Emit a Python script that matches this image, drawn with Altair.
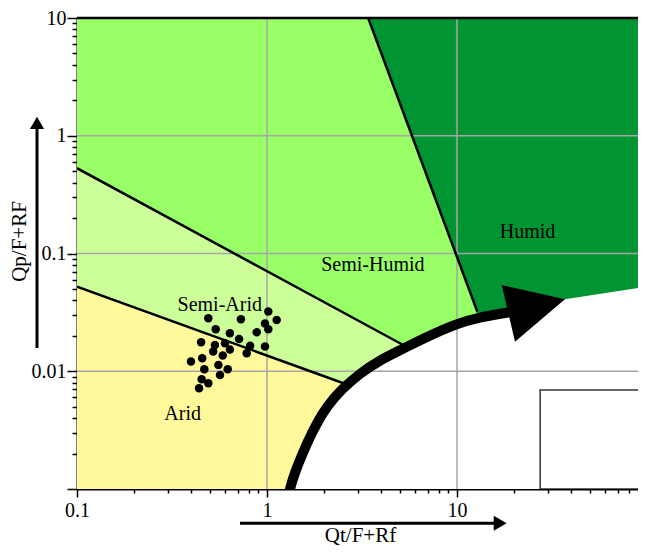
import altair as alt
import pandas as pd

# ---------------- data ----------------
pt_x = [0.491, 0.729, 1.016, 1.125, 0.976, 1.016, 0.883, 0.537, 0.638, 0.713,
        0.450, 0.532, 0.601, 0.815, 0.976, 0.638, 0.521, 0.782, 0.585, 0.456,
        0.398, 0.555, 0.621, 0.468, 0.566, 0.453, 0.491, 0.439]
pt_y = [0.0282, 0.0276, 0.0321, 0.0272, 0.0255, 0.0227, 0.0214, 0.0227, 0.0210, 0.0188,
        0.0176, 0.0167, 0.0173, 0.0165, 0.0162, 0.0153, 0.0147, 0.0142, 0.0136, 0.0129,
        0.0121, 0.0113, 0.0104, 0.0104, 0.00929, 0.00855, 0.00791, 0.00716]

line1_x = [0.1, 2.68]
line1_y = [0.0523, 0.00764]
line2_x = [0.1, 5.21]
line2_y = [0.530, 0.0167]
line3_x = [3.41, 12.8]
line3_y = [10.0, 0.0321]

semihumid_x = [0.1, 3.41, 27.8]
semihumid_y = [10.0, 10.0, 0.001]
semiarid_x = [0.1, 5.21]
semiarid_y = [0.530, 0.0167]
arid_x = [0.1, 2.68]
arid_y = [0.0523, 0.00764]

arc_x = [1.282, 1.321, 1.392, 1.650, 1.827, 2.062, 2.443, 3.087, 3.933, 5.217, 6.387,
         9.964, 13.21, 17.52, 19.0]
arc_y = [0.000806, 0.001, 0.001359, 0.002607, 0.003614, 0.005000, 0.006932, 0.009607,
         0.01246, 0.01554, 0.01842, 0.02554, 0.02872, 0.03105, 0.03184]
head_x = [17.2, 20.2, 37.0]
head_top = [0.054, 0.0509, 0.0408]
head_bot = [0.054, 0.0178, 0.0408]
edge_x = [13.21, 19.0, 37.0, 100.0]
edge_y = [0.02872, 0.03184, 0.0408, 0.0523]

box_x, box_x2 = [27.4], [100.0]
box_y, box_y2 = [0.001], [0.00693]

grid_x = [1, 10]
grid_y = [0.01, 0.1, 1]

lab_text = ["Semi-Arid", "Arid", "Semi-Humid", "Humid"]
lab_x = [0.564, 0.360, 3.61, 23.5]
lab_y = [0.0322, 0.00385, 0.0714, 0.1346]

# ---------------- chart ----------------
FONT = "Liberation Serif"
XMAX = 89.7
XS = alt.Scale(type="log", domain=[0.1, XMAX], nice=False)
YS = alt.Scale(type="log", domain=[0.001, 10], nice=False)

x_ticks = [m * 10.0 ** e for e in range(-1, 2) for m in range(1, 10)]
x_ticks = [v for v in x_ticks if v <= XMAX]
y_ticks = [m * 10.0 ** e for e in range(-3, 1) for m in range(1, 10)] + [10.0]
is_dec = "abs(log(datum.value)/LN10 - round(log(datum.value)/LN10)) < 0.001"

x_axis = alt.Axis(
    values=x_ticks, grid=False, title="Qt/F+Rf",
    labelExpr=f"({is_dec}) ? format(datum.value, '~g') : ''",
    tickSize={"condition": {"test": is_dec, "value": 8}, "value": 4},
    labelPadding=3, labelFont=FONT, labelFontSize=20, labelColor="black",
    titleFont=FONT, titleFontSize=21, titleFontWeight="normal", titleColor="black",
    titleX=283, titleY=52, titleAlign="center", titleBaseline="alphabetic",
    domainColor="black", domainWidth=2, tickColor="black", tickWidth=1.5,
    labelFlush=False, labelOverlap=False,
)
y_axis = alt.Axis(
    values=y_ticks, grid=False, title="Qp/F+RF",
    labelExpr=f"({is_dec}) && datum.value > 0.005 ? format(datum.value, '~g') : ''",
    tickSize={"condition": {"test": is_dec, "value": 10}, "value": 5},
    labelPadding=1, labelFont=FONT, labelFontSize=20, labelColor="black",
    titleFont=FONT, titleFontSize=21, titleFontWeight="normal", titleColor="black",
    titleX=-58, titleY=223, titleAngle=-90, titleAlign="center", titleBaseline="middle",
    domainColor="black", domainWidth=2, tickColor="black", tickWidth=1.5,
    labelFlush=False, labelOverlap=False,
)


def X(field="x"):
    return alt.X(f"{field}:Q", scale=XS, axis=x_axis)


def Y(field="y"):
    return alt.Y(f"{field}:Q", scale=YS, axis=y_axis)


def area_layer(xs, ys, color, y2s=None, interp="linear"):
    df = pd.DataFrame({"x": xs, "y": ys, "lo": y2s if y2s else [0.001] * len(xs)})
    return alt.Chart(df).mark_area(color=color, clip=True, interpolate=interp).encode(
        x=X(), y=Y(), y2=alt.Y2("lo"))


humid = alt.Chart(pd.DataFrame({"x": [0.1], "xe": [XMAX], "y": [0.001], "ye": [10.0]})).mark_rect(
    color="#009433", clip=True).encode(x=X(), x2=alt.X2("xe"), y=Y(), y2=alt.Y2("ye"))
semihumid = area_layer(semihumid_x, semihumid_y, "#99FF66")
semiarid = area_layer(semiarid_x, semiarid_y, "#CCFF99")
arid = area_layer(arid_x, arid_y, "#FFF99C")
white_arc = area_layer(arc_x, arc_y, "white", interp="basis")
white_edge = area_layer(edge_x, edge_y, "white")

box = alt.Chart(pd.DataFrame({"x": box_x, "xe": box_x2, "y": box_y, "ye": box_y2})).mark_rect(
    fill="white", fillOpacity=0, stroke="#333333", strokeWidth=1.5, clip=True).encode(
    x=X(), x2=alt.X2("xe"), y=Y(), y2=alt.Y2("ye"))

gx = alt.Chart(pd.DataFrame({"x": grid_x})).mark_rule(color="#a6a6a6", strokeWidth=1.5).encode(x=X())
gy = alt.Chart(pd.DataFrame({"y": grid_y})).mark_rule(color="#a6a6a6", strokeWidth=1.5).encode(y=Y())


def line_layer(xs, ys, width, interp="linear"):
    df = pd.DataFrame({"x": xs, "y": ys})
    return alt.Chart(df).mark_line(color="black", strokeWidth=width, clip=True,
                                   interpolate=interp).encode(x=X(), y=Y())


l1 = line_layer(line1_x, line1_y, 2.5)
l2 = line_layer(line2_x, line2_y, 2.5)
l3 = line_layer(line3_x, line3_y, 2.5)
arc = line_layer(arc_x, arc_y, 10, interp="basis")
head = area_layer(head_x, head_top, "black", y2s=head_bot)

pts = alt.Chart(pd.DataFrame({"x": pt_x, "y": pt_y})).mark_circle(
    color="black", size=72, opacity=1).encode(x=X(), y=Y())

labels = alt.Chart(pd.DataFrame({"t": lab_text, "x": lab_x, "y": lab_y})).mark_text(
    font=FONT, fontSize=20, color="black", align="center", baseline="alphabetic").encode(
    x=X(), y=Y(), text="t:N")

top = alt.Chart(pd.DataFrame({"y": [10.0]})).mark_rule(color="black", strokeWidth=2.5).encode(y=Y())

one = pd.DataFrame({"a": [0]})
yarrow = alt.Chart(one).mark_rule(color="black", strokeWidth=3).encode(
    x=alt.value(-40), y=alt.value(330), y2=alt.value(110))
yhead = alt.Chart(one).mark_point(shape="triangle-up", filled=True, size=200,
                                  color="black", opacity=1).encode(
    x=alt.value(-40), y=alt.value(104.8))
xarrow = alt.Chart(one).mark_rule(color="black", strokeWidth=3).encode(
    x=alt.value(163), x2=alt.value(420), y=alt.value(505.3))
xhead = alt.Chart(one).mark_point(shape="triangle-right", filled=True, size=225,
                                  color="black", opacity=1).encode(
    x=alt.value(423.2), y=alt.value(505.3))

chart = alt.layer(
    humid, semihumid, semiarid, arid, white_arc, white_edge, box, gx, gy,
    l1, l2, l3, arc, head, pts, labels, top, yarrow, yhead, xarrow, xhead,
).properties(
    width=561, height=471,
    autosize=alt.AutoSizeParams(type="none"),
    padding={"left": 69, "top": 10, "right": 0, "bottom": 57},
    background="white",
).configure_view(stroke=None).configure(font=FONT)

chart.save("out.html", embed_options={"renderer": "svg", "actions": False})
